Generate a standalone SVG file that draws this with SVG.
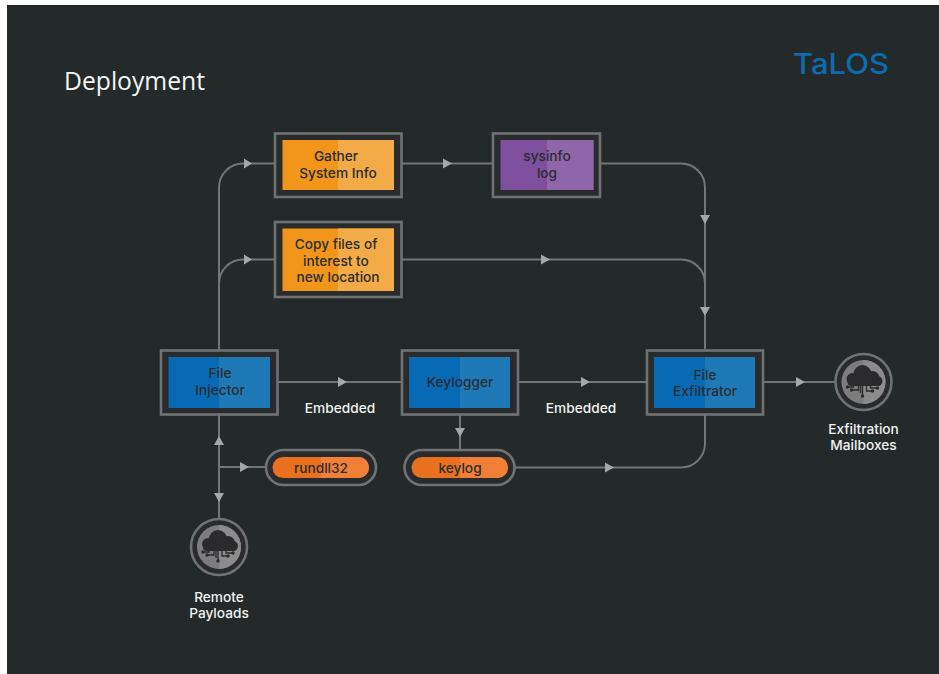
<svg xmlns="http://www.w3.org/2000/svg" width="939" height="674" viewBox="0 0 939 674">
<style>
.t{font-family:Inter,"Liberation Sans",sans-serif;font-size:13.7px;font-weight:500;text-anchor:middle}
.d{fill:#2a2d30}
.w{fill:#f1f2f2}
.o{fill:#2a2b2c;stroke:#707374;stroke-width:2.6}
.c{fill:none;stroke:#737677;stroke-width:2}
.a{fill:#a5a7a8}
.ic{fill:#2b2b2d}
.il{fill:none;stroke:#2b2b2d;stroke-width:1.3}
</style>
<defs>
<g id="cloud">
<circle r="28" class="o"/>
<circle r="22" fill="#7d7d7d"/>
<path d="M0-22A22 22 0 0 1 0 22Z" fill="#8c8c8c"/>
<circle cx="-11" cy="-3" r="6" class="ic"/><circle cx="-1" cy="-8" r="9" class="ic"/><circle cx="9" cy="-4" r="7" class="ic"/><circle cx="14" cy="-1" r="5" class="ic"/>
<rect x="-16" y="-5" width="34" height="9" rx="4" class="ic"/>
<path class="il" d="M-1 3V13M-5 3V8H-11M3 3V9H8M7 3V6H13M-10 3V5H-15M-3 3V11"/>
<circle cx="-12" cy="8" r="1.700" class="ic"/><circle cx="-1" cy="14" r="1.700" class="ic"/><circle cx="9" cy="9" r="1.700" class="ic"/><circle cx="14" cy="6" r="1.700" class="ic"/><circle cx="-16" cy="5" r="1.700" class="ic"/>
</g>
</defs>
<rect width="939" height="674" fill="#fff"/>
<rect x="7" y="5" width="932" height="669" fill="#24292a"/>
<text x="64" y="90" font-family="Open Sans,Noto Sans,sans-serif" font-size="25" fill="#f4f5f5" textLength="141" lengthAdjust="spacingAndGlyphs">Deployment</text>
<text x="793" y="73.500" font-family="Inter,Liberation Sans,sans-serif" font-size="28" font-weight="500" fill="#0b6cb0" textLength="96" lengthAdjust="spacingAndGlyphs">TaLOS</text>

<g id="connectors">
<path class="c" d="M219 350V187A24 24 0 0 1 243 163.500H274"/>
<path class="c" d="M219 283A24 24 0 0 1 243 259.500H274"/>
<path class="c" d="M402 163.500H492"/>
<path class="c" d="M601 163.500H681A24 24 0 0 1 705 187.500V349"/>
<path class="c" d="M402 259.500H681A24 24 0 0 1 705 283.500"/>
<path class="c" d="M278 382H401"/>
<path class="c" d="M518 382H646"/>
<path class="c" d="M764 382H835"/>
<path class="c" d="M460 415V449"/>
<path class="c" d="M515 467.500H681A24 24 0 0 0 705 443.500V415"/>
<path class="c" d="M219 415V519"/>
<path class="c" d="M219 467H265"/>
<path class="a" d="M244 158.500L252 163.500L244 168.500Z"/>
<path class="a" d="M244 254.500L252 259.500L244 264.500Z"/>
<path class="a" d="M443 158.500L452 163.500L443 168.500Z"/>
<path class="a" d="M541 254.500L550 259.500L541 264.500Z"/>
<path class="a" d="M338 377L347 382L338 387Z"/>
<path class="a" d="M581 377L590 382L581 387Z"/>
<path class="a" d="M796 377L805 382L796 387Z"/>
<path class="a" d="M605 462.500L614 467.500L605 472.500Z"/>
<path class="a" d="M240 462L249 467L240 472Z"/>
<path class="a" d="M700 215L705 224L710 215Z"/>
<path class="a" d="M700 307L705 316L710 307Z"/>
<path class="a" d="M455 428L460 437L465 428Z"/>
<path class="a" d="M214 445L219 436L224 445Z"/>
<path class="a" d="M214 493L219 502L224 493Z"/>
</g>

<g id="gather">
<rect x="275" y="133.500" width="126.500" height="63.500" class="o"/>
<rect x="282.500" y="140" width="111.500" height="50" fill="#f1961b"/><rect x="338" y="140" width="56" height="50" fill="#f2ab46"/>
<text class="t d" x="336" y="161">Gather</text><text class="t d" x="338" y="178">System Info</text>
</g>
<g id="sysinfo">
<rect x="493" y="133.500" width="107" height="63.500" class="o"/>
<rect x="500.500" y="140" width="93" height="50" fill="#7d4f9c"/><rect x="547" y="140" width="46.500" height="50" fill="#8f66a9"/>
<text class="t d" x="547" y="161">sysinfo</text><text class="t d" x="547" y="178">log</text>
</g>
<g id="copy">
<rect x="275" y="222" width="126.500" height="75" class="o"/>
<rect x="282.500" y="228.500" width="111.500" height="62.500" fill="#f1961b"/><rect x="338" y="228.500" width="56" height="62.500" fill="#f2ab46"/>
<text class="t d" x="336" y="249">Copy files of</text><text class="t d" x="336" y="265.500">interest to</text><text class="t d" x="338" y="282">new location</text>
</g>
<g id="injector">
<rect x="161" y="350.500" width="116.500" height="64" class="o"/>
<rect x="168.500" y="357" width="101.500" height="51" fill="#0869b5"/><rect x="219" y="357" width="51" height="51" fill="#1e79b6"/>
<text class="t d" x="220" y="378">File</text><text class="t d" x="220" y="395">Injector</text>
</g>
<g id="keylogger">
<rect x="402" y="350.500" width="116" height="64" class="o"/>
<rect x="409" y="357" width="101" height="51" fill="#0869b5"/><rect x="460" y="357" width="50" height="51" fill="#1e79b6"/>
<text class="t d" x="460" y="387">Keylogger</text>
</g>
<g id="exfiltrator">
<rect x="647" y="350.500" width="116" height="64" class="o"/>
<rect x="654" y="357" width="101" height="51" fill="#0869b5"/><rect x="705" y="357" width="50" height="51" fill="#1e79b6"/>
<text class="t d" x="705" y="380">File</text><text class="t d" x="705" y="396">Exfiltrator</text>
</g>
<g id="rundll32">
<rect x="266" y="450" width="110" height="35" rx="17.500" class="o"/>
<rect x="272.500" y="457" width="96.500" height="21" rx="10.500" fill="#e8701f"/>
<path d="M321 457H358.500a10.500 10.500 0 0 1 0 21H321Z" fill="#f27f38"/>
<text class="t d" x="321" y="472.500">rundll32</text>
</g>
<g id="keylog">
<rect x="404.500" y="450" width="110" height="35" rx="17.500" class="o"/>
<rect x="411.500" y="457" width="96.500" height="21" rx="10.500" fill="#e8701f"/>
<path d="M460 457H497.500a10.500 10.500 0 0 1 0 21H460Z" fill="#f27f38"/>
<text class="t d" x="460" y="472.500">keylog</text>
</g>
<g id="remote">
<use href="#cloud" x="219" y="547"/>
<text class="t w" x="219" y="602">Remote</text><text class="t w" x="219" y="618">Payloads</text>
</g>
<g id="mailboxes">
<use href="#cloud" x="863.500" y="382"/>
<text class="t w" x="863.500" y="434">Exfiltration</text><text class="t w" x="863.500" y="450">Mailboxes</text>
</g>
<g id="labels">
<text class="t w" x="340" y="413">Embedded</text>
<text class="t w" x="581" y="413">Embedded</text>
</g>
</svg>
